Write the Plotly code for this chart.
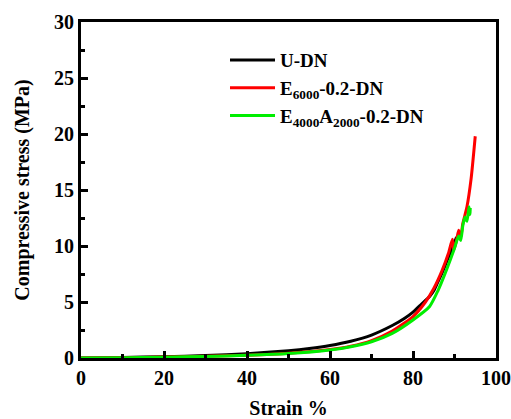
import plotly.graph_objects as go

udn_strain = [0, 10, 20, 30, 40, 50, 55, 60, 65, 70, 75, 78, 80, 82, 84, 85, 86, 87, 88, 89, 90, 90.5]
udn_stress = [0, 0.05, 0.12, 0.22, 0.38, 0.65, 0.85, 1.12, 1.5, 2.05, 2.9, 3.55, 4.1, 4.8, 5.5, 6.0, 6.8, 7.6, 8.5, 9.4, 10.3, 10.8]

e6000_strain = [0, 10, 20, 30, 40, 50, 60, 65, 70, 75, 80, 83, 85, 87, 88.5, 89.5, 89.8, 90.5, 91, 91.5, 92, 93, 94, 95]
e6000_stress = [0, 0.03, 0.08, 0.15, 0.25, 0.42, 0.75, 1.05, 1.55, 2.4, 3.7, 5.0, 6.2, 7.8, 9.3, 10.6, 9.6, 10.5, 11.4, 10.8, 12.0, 13.5, 16.0, 19.8]

e4a2_strain = [0, 10, 20, 30, 40, 50, 60, 65, 70, 75, 80, 84, 86, 88, 90, 91, 91.5, 92, 92.5, 93, 93.5, 93.7, 93.8]
e4a2_stress = [0, 0.03, 0.07, 0.14, 0.24, 0.4, 0.72, 1.0, 1.45, 2.2, 3.4, 4.6, 6.0, 7.8, 9.8, 10.9, 10.5, 11.8, 12.6, 12.2, 13.5, 12.8, 13.4]

x_ticks = [0, 20, 40, 60, 80, 100]
y_ticks = [0, 5, 10, 15, 20, 25, 30]

names = ["U-DN", "E<sub>6000</sub>-0.2-DN", "E<sub>4000</sub>A<sub>2000</sub>-0.2-DN"]
colors = ["#000000", "#ff0000", "#00ee00"]

font_family = "Liberation Serif"

fig = go.Figure()
for xs, ys, nm, c in [(udn_strain, udn_stress, names[0], colors[0]),
                      (e6000_strain, e6000_stress, names[1], colors[1]),
                      (e4a2_strain, e4a2_stress, names[2], colors[2])]:
    fig.add_trace(go.Scatter(x=xs, y=ys, mode="lines", name="<b>" + nm + "</b>",
                             line=dict(color=c, width=3, shape="spline", smoothing=0.6)))

fig.update_layout(
    width=511, height=419,
    margin=dict(l=81, r=15, t=22, b=61),
    paper_bgcolor="white", plot_bgcolor="white",
    font=dict(family=font_family, size=20, color="black"),
    showlegend=True,
    legend=dict(x=0.347, y=0.943, xanchor="left", yanchor="top",
                bgcolor="rgba(0,0,0,0)", borderwidth=0,
                font=dict(family=font_family, size=19, color="black"),
                itemwidth=45, tracegroupgap=7),
    xaxis=dict(range=[0, 100], tickvals=x_ticks, ticktext=["<b>%d</b>" % v for v in x_ticks],
               showline=True, linecolor="black", linewidth=3, mirror=True,
               ticks="inside", ticklen=7, tickwidth=2.5, tickcolor="black",
               minor=dict(dtick=10, tick0=0, ticks="inside", ticklen=4, tickwidth=2.5, tickcolor="black"),
               showgrid=False, zeroline=False, automargin=False,
               tickfont=dict(family=font_family, size=20, weight="bold"),
               title=dict(text="<b>Strain %</b>", font=dict(family=font_family, size=20), standoff=16)),
    yaxis=dict(range=[0, 30], tickvals=y_ticks, ticktext=["<b>%d</b>" % v for v in y_ticks],
               showline=True, linecolor="black", linewidth=3, mirror=True,
               ticks="inside", ticklen=7, tickwidth=2.5, tickcolor="black",
               minor=dict(dtick=2.5, tick0=0, ticks="inside", ticklen=4, tickwidth=2.5, tickcolor="black"),
               showgrid=False, zeroline=False, automargin=False,
               tickfont=dict(family=font_family, size=20, weight="bold"),
               title=dict(text="<b>Compressive stress (MPa)</b>", font=dict(family=font_family, size=20), standoff=20)),
)

fig.write_html("out.html", config={"displayModeBar": False},
               post_script="document.body.style.margin='0';document.body.style.overflow='hidden';")
